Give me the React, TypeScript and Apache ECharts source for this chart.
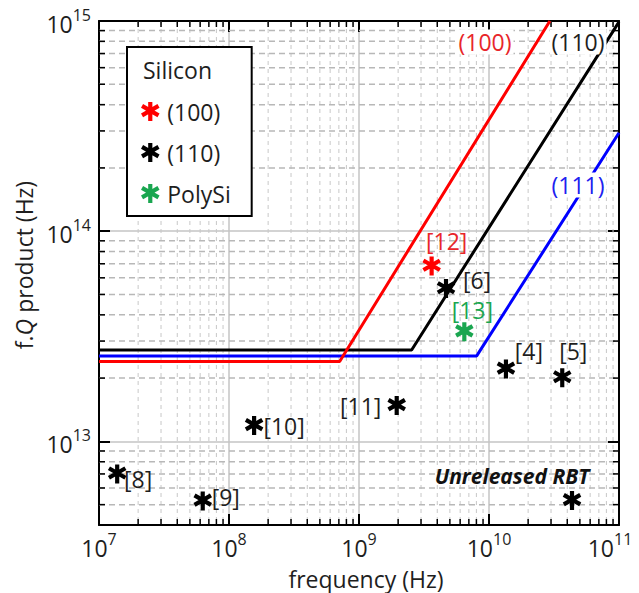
import React, { useEffect, useRef } from 'react';
import * as echarts from 'echarts';

// ---------- axis ranges & ticks ----------
const X_MIN = 1e7;
const X_MAX = 1e11;
const Y_MIN = 4e12;
const Y_MAX = 1e15;
const xDecades = [1e7, 1e8, 1e9, 1e10];
const yDecades = [1e12, 1e13, 1e14];
const minorMultipliers = [2, 3, 4, 5, 6, 7, 8, 9];

// ---------- limit curves [frequency, f.Q] ----------
const limit100 = [[1e7, 2.4e13], [7.1e8, 2.4e13], [2.94e10, 1e15]];
const limit110 = [[1e7, 2.72e13], [2.54e9, 2.72e13], [1e11, 9.9e14]];
const limit111 = [[1e7, 2.55e13], [8.04e9, 2.55e13], [1e11, 2.94e14]];

// ---------- published data points ----------
const si100Refs = ['[12]'];
const si100Freq = [3.62e9];
const si100FQ = [6.82e13];

const si110Refs = ['[6]', '[4]', '[5]', '[11]', '[10]', '[8]', '[9]'];
const si110Freq = [4.67e9, 1.35e10, 3.66e10, 1.95e9, 1.56e8, 1.38e7, 6.28e7];
const si110FQ = [5.33e13, 2.21e13, 2.01e13, 1.48e13, 1.19e13, 7.0e12, 5.2e12];

const polyRefs = ['[13]'];
const polyFreq = [6.46e9];
const polyFQ = [3.32e13];

const unreleasedLabel = ['Unreleased RBT'];
const unreleasedFreq = [4.35e10];
const unreleasedFQ = [5.23e12];

// ---------- layout / style (not data) ----------
const FONT = '"Open Sans", "Noto Sans", sans-serif';
const STAR =
  'path://M39 0L61 0L61 100L39 100Z M1.2 29.76L12.2 10.71L98.8 60.71L87.8 79.76Z M87.8 10.71L98.8 29.76L12.2 79.76L1.2 60.71Z';
const RED = '#ff0000';
const BLUE = '#0000ff';
const GREEN = '#1aa650';
const TXT = '#1e1e1e';

const LABEL_OFFSETS: Record<string, [number, number]> = {
  '[12]': [15, -25],
  '[6]': [31, -9],
  '[13]': [8, -22],
  '[4]': [23, -18],
  '[5]': [11, -27],
  '[11]': [-36, 0],
  '[10]': [30, 1],
  '[8]': [21, 5],
  '[9]': [23, -4],
  'Unreleased RBT': [-60, -25],
};

function makePoints(freqs: number[], fqs: number[], refs: string[], color: string, extra: any = {}) {
  return freqs.map((f, i) => ({
    value: [f, fqs[i]],
    label: {
      show: true,
      position: 'inside',
      formatter: refs[i],
      offset: LABEL_OFFSETS[refs[i]],
      color,
      opacity: 1,
      fontSize: 23,
      lineHeight: 24,
      fontFamily: FONT,
      ...extra,
    },
  }));
}

function powLabel(v: number) {
  const e = Math.round(Math.log10(v));
  if (Math.abs(v - Math.pow(10, e)) / v > 1e-6) return '';
  if (e === 11) return `{b|10}{s|${e}}{p| }`;
  return `{b|10}{s|${e}}`;
}

const tickRich = {
  b: { fontSize: 23, fontFamily: FONT, color: TXT, lineHeight: 28, verticalAlign: 'bottom' },
  s: { fontSize: 16, fontFamily: FONT, color: TXT, lineHeight: 16, verticalAlign: 'top' },
  p: { fontSize: 10, width: 18, lineHeight: 16 },
};

export default function App() {
  const ref = useRef<HTMLDivElement>(null);

  useEffect(() => {
    document.body.style.margin = '0';
    if (!ref.current) return;
    const chart = echarts.init(ref.current, undefined, { renderer: 'svg' });

    const minorData: number[][] = [];
    xDecades.forEach((d) =>
      minorMultipliers.forEach((m) => {
        const v = d * m;
        if (v > X_MIN && v < X_MAX) minorData.push([v, Y_MIN, 0]);
      })
    );
    yDecades.forEach((d) =>
      minorMultipliers.forEach((m) => {
        const v = d * m;
        if (v > Y_MIN && v < Y_MAX) minorData.push([X_MIN, v, 1]);
      })
    );

    const axisLine = { show: true, onZero: false, lineStyle: { color: '#000', width: 2 } };
    const axisTick = { show: true, inside: true, length: 11, lineStyle: { color: '#000', width: 2 } };
    const majorSplit = { show: true, lineStyle: { color: '#c4c4c4', width: 1.5, type: 'solid' } };

    const scatterCommon = {
      type: 'scatter',
      symbol: STAR,
      symbolSize: 19,
      symbolKeepAspect: true,
      z: 5,
      emphasis: { disabled: true },
    };

    const option: any = {
      animation: false,
      backgroundColor: '#ffffff',
      grid: { left: 99, top: 21, width: 520, height: 504, outerBoundsMode: 'none', containLabel: false },
      xAxis: [
        {
          type: 'log',
          logBase: 10,
          min: X_MIN,
          max: X_MAX,
          position: 'bottom',
          axisLine,
          axisTick,
          splitLine: majorSplit,
          minorTick: { show: false },
          minorSplitLine: { show: false },
          axisLabel: { margin: 6, formatter: powLabel, rich: tickRich },
          name: 'frequency (Hz)',
          nameLocation: 'middle',
          nameGap: 42,
          nameTextStyle: { fontSize: 23, fontFamily: FONT, color: TXT, padding: [0, 0, 0, 14] },
        },
        {
          type: 'log',
          logBase: 10,
          min: X_MIN,
          max: X_MAX,
          position: 'top',
          axisLine,
          axisTick,
          splitLine: { show: false },
          axisLabel: { show: false },
        },
      ],
      yAxis: [
        {
          type: 'log',
          logBase: 10,
          min: Y_MIN,
          max: Y_MAX,
          position: 'left',
          axisLine,
          axisTick,
          splitLine: majorSplit,
          minorTick: { show: false },
          minorSplitLine: { show: false },
          axisLabel: { margin: 8, formatter: powLabel, rich: tickRich },
          name: '{t|f.}{q|Q}{t| product (Hz)}',
          nameLocation: 'middle',
          nameRotate: 90,
          nameGap: 62,
          nameTextStyle: {
            padding: [0, 0, 0, 16],
            rich: {
              t: { fontSize: 23, fontFamily: FONT, color: TXT },
              q: { fontSize: 23, fontFamily: FONT, color: TXT, fontStyle: 'italic' },
            },
          },
        },
        {
          type: 'log',
          logBase: 10,
          min: Y_MIN,
          max: Y_MAX,
          position: 'right',
          axisLine,
          axisTick,
          splitLine: { show: false },
          axisLabel: { show: false },
        },
      ],
      legend: {
        orient: 'vertical',
        left: 127,
        top: 47,
        data: ['(100)', '(110)', 'PolySi'],
        itemWidth: 24,
        itemHeight: 19,
        itemGap: 16,
        padding: [52, 21, 10, 14],
        backgroundColor: '#ffffff',
        borderColor: '#000000',
        borderWidth: 2,
        borderRadius: 0,
        selectedMode: false,
        textStyle: { fontSize: 23, fontFamily: FONT, color: TXT, lineHeight: 25 },
      },
      graphic: [
        {
          type: 'text',
          x: 143,
          y: 70,
          z: 100,
          style: { text: 'Silicon', fontSize: 23, fontFamily: FONT, fill: TXT, align: 'left', verticalAlign: 'middle' },
        },
        {
          type: 'text',
          x: 485,
          y: 42,
          z: 100,
          style: {
            text: '(100)', fontSize: 23, fontFamily: FONT, fill: '#e8262a', align: 'center', verticalAlign: 'middle',
            backgroundColor: '#ffffff', padding: [1, 2],
          },
        },
        {
          type: 'text',
          x: 578,
          y: 42,
          z: 100,
          style: {
            text: '(110)', fontSize: 23, fontFamily: FONT, fill: TXT, align: 'center', verticalAlign: 'middle',
            backgroundColor: '#ffffff', padding: [1, 2],
          },
        },
        {
          type: 'text',
          x: 578,
          y: 185,
          z: 100,
          style: {
            text: '(111)', fontSize: 23, fontFamily: FONT, fill: '#2020f0', align: 'center', verticalAlign: 'middle',
            backgroundColor: '#ffffff', padding: [1, 2],
          },
        },
      ],
      series: [
        {
          type: 'custom',
          name: 'minor grid',
          coordinateSystem: 'cartesian2d',
          silent: true,
          z: 1,
          data: minorData,
          renderItem: (params: any, api: any) => {
            const cs = params.coordSys;
            const kind = api.value(2);
            const p = api.coord([api.value(0), api.value(1)]);
            const tickStyle = { stroke: '#000', lineWidth: 1.5 };
            if (kind === 0) {
              const x = p[0];
              return {
                type: 'group',
                children: [
                  { type: 'line', shape: { x1: x, y1: cs.y, x2: x, y2: cs.y + cs.height }, style: { stroke: '#c8c8c8', lineWidth: 1, lineDash: [4, 4] } },
                  { type: 'line', shape: { x1: x, y1: cs.y + cs.height, x2: x, y2: cs.y + cs.height - 6 }, style: tickStyle },
                  { type: 'line', shape: { x1: x, y1: cs.y, x2: x, y2: cs.y + 6 }, style: tickStyle },
                ],
              };
            }
            const y = p[1];
            return {
              type: 'group',
              children: [
                { type: 'line', shape: { x1: cs.x, y1: y, x2: cs.x + cs.width, y2: y }, style: { stroke: '#b8b8b8', lineWidth: 1.5, lineDash: [6, 4] } },
                { type: 'line', shape: { x1: cs.x, y1: y, x2: cs.x + 6, y2: y }, style: tickStyle },
                { type: 'line', shape: { x1: cs.x + cs.width, y1: y, x2: cs.x + cs.width - 6, y2: y }, style: tickStyle },
              ],
            };
          },
        },
        {
          type: 'line',
          name: '(111) limit',
          data: limit111,
          symbol: 'none',
          clip: true,
          z: 3,
          lineStyle: { color: BLUE, width: 3 },
        },
        {
          type: 'line',
          name: '(110) limit',
          data: limit110,
          symbol: 'none',
          clip: true,
          z: 3,
          lineStyle: { color: '#000000', width: 3 },
        },
        {
          type: 'line',
          name: '(100) limit',
          data: limit100,
          symbol: 'none',
          clip: true,
          z: 3,
          lineStyle: { color: RED, width: 3 },
        },
        {
          ...scatterCommon,
          name: '(100)',
          itemStyle: { color: RED, opacity: 1 },
          data: makePoints(si100Freq, si100FQ, si100Refs, '#e8262a'),
        },
        {
          ...scatterCommon,
          name: '(110)',
          itemStyle: { color: '#000000', opacity: 1 },
          data: [
            ...makePoints(si110Freq, si110FQ, si110Refs, TXT),
            ...makePoints(unreleasedFreq, unreleasedFQ, unreleasedLabel, '#111111', {
              fontWeight: 'bold',
              fontStyle: 'italic',
              fontSize: 21,
            }),
          ],
        },
        {
          ...scatterCommon,
          name: 'PolySi',
          itemStyle: { color: GREEN, opacity: 1 },
          data: makePoints(polyFreq, polyFQ, polyRefs, GREEN),
        },
      ],
    };

    chart.setOption(option);
    return () => {
      chart.dispose();
    };
  }, []);

  return (
    <div
      ref={ref}
      style={{ position: 'absolute', left: 0, top: 0, width: 639, height: 593, background: '#fff' }}
    />
  );
}
